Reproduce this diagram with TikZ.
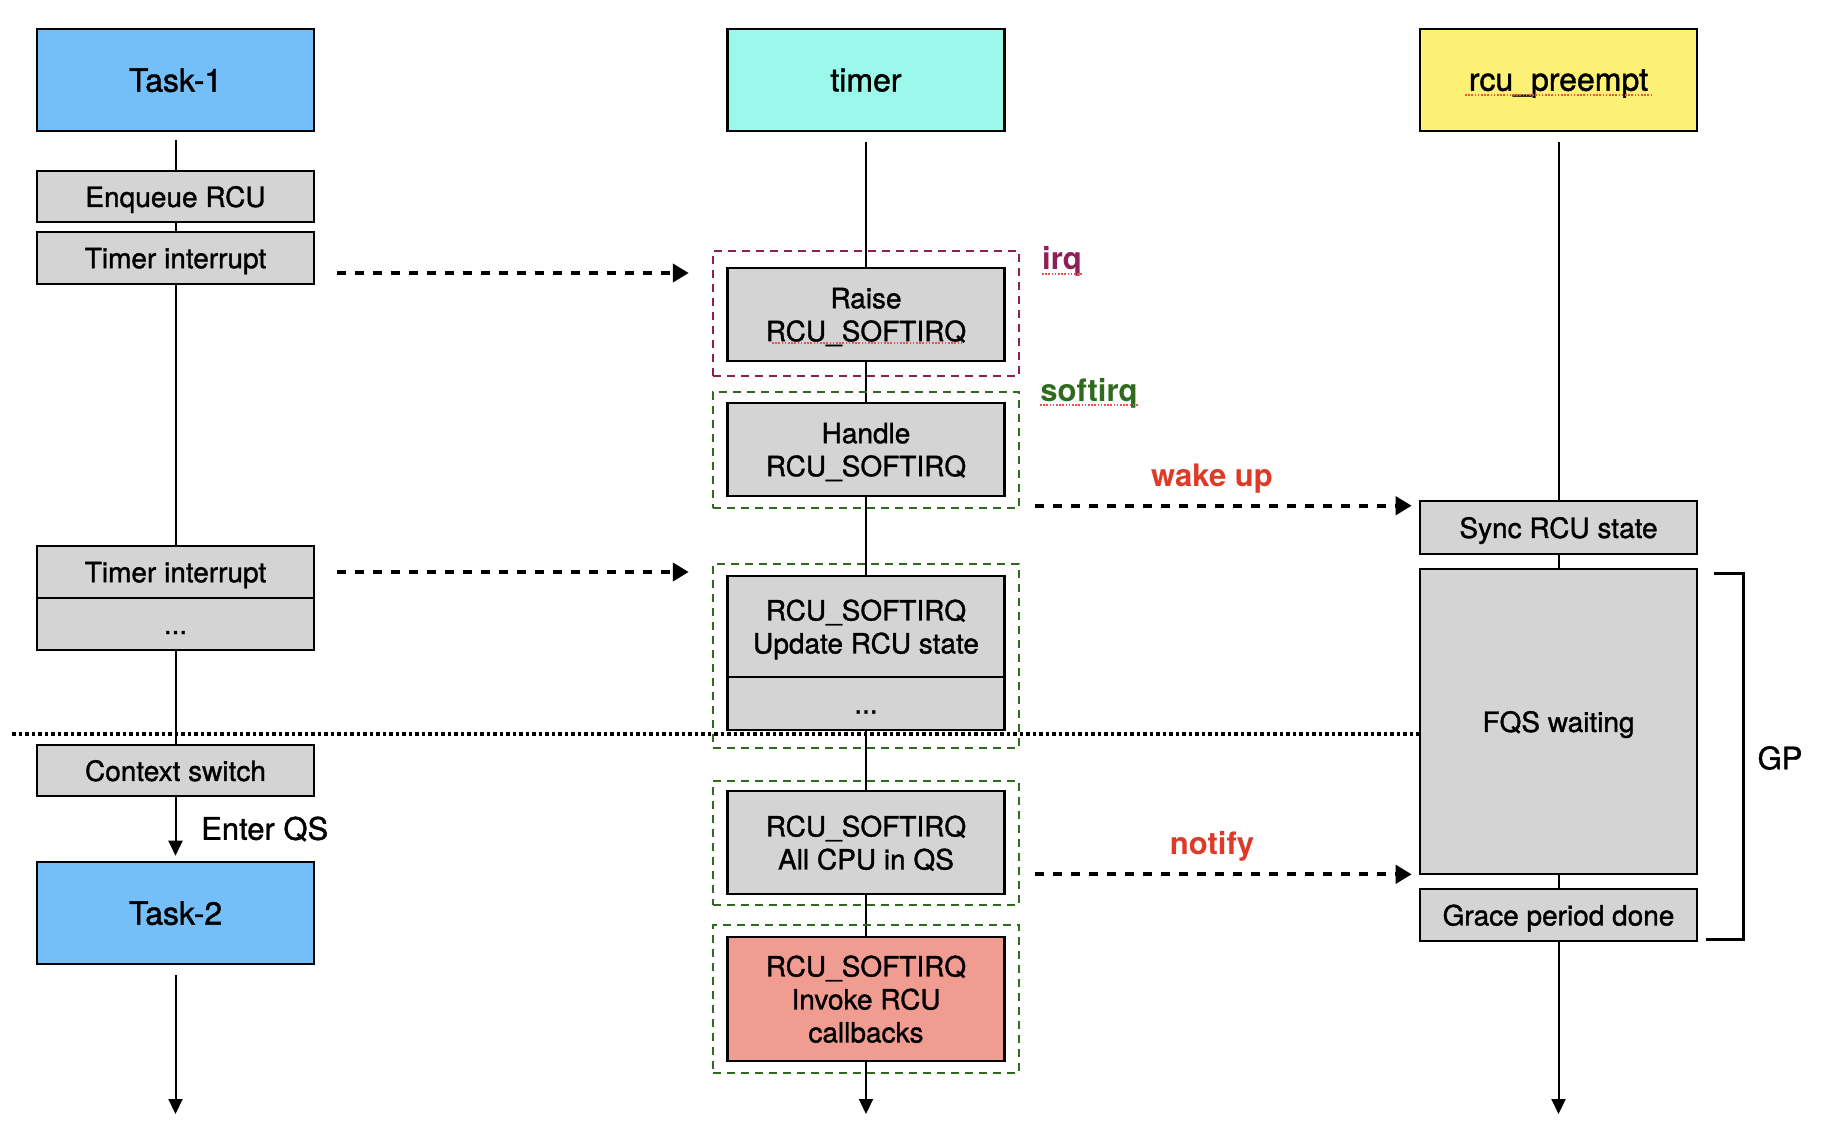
\documentclass[tikz,border=0pt]{standalone}
\usepackage{fontspec}
\setmainfont{TeX Gyre Heros}[UprightFeatures={FakeBold=1.2}]
\usetikzlibrary{arrows.meta,calc}
\definecolor{taskblue}{HTML}{74BFF8}
\definecolor{timercyan}{HTML}{9AF9EA}
\definecolor{rcuyellow}{HTML}{FCF075}
\definecolor{boxgray}{HTML}{D4D4D4}
\definecolor{boxpink}{HTML}{F19C90}
\definecolor{irqcol}{HTML}{8E1E56}
\definecolor{sirqcol}{HTML}{2F6B1E}
\definecolor{labred}{HTML}{DD3A28}
\definecolor{spellred}{HTML}{F0504A}
\pgfdeclarelayer{background}
\pgfsetlayers{background,main}
\begin{document}
\begin{tikzpicture}[x=1pt,y=-1pt,
  boxbase/.style={draw=black,line width=2.6pt,inner sep=0pt,align=center,text depth=0pt,font=\fontsize{28}{33}\selectfont},
  head/.style={boxbase,minimum width=277pt,minimum height=102pt,font=\fontsize{32}{38}\selectfont},
  stepbox/.style={boxbase,fill=boxgray,minimum width=277pt},
  dotsbox/.style={stepbox,text height=20pt},
  life/.style={line width=2pt},
  lifearrow/.style={life,-{Triangle[length=15pt,width=14pt]}},
  msg/.style={line width=4pt,dash pattern=on 9pt off 9pt,-{Triangle[length=16pt,width=18pt]}},
  grp/.style={line width=2.5pt,dash pattern=on 8pt off 6pt,minimum width=306pt,inner sep=0pt},
  tag/.style={font=\fontsize{31}{36}\selectfont\bfseries,inner sep=0pt},
  plain/.style={font=\fontsize{31}{36}\selectfont,inner sep=0pt},
  spell/.style={draw=spellred,line width=1.3pt,dash pattern=on 1.6pt off 1.6pt},
  gpbracket/.style={line width=2.5pt}
]
\useasboundingbox (0,0) rectangle (1822,1122);

% column heads
\node[head,fill=taskblue] (task1) at (175.5,80) {Task-1};
\node[head,fill=timercyan] (timer) at (866,80) {timer};
\node[head,fill=rcuyellow] (rcu) at (1558.5,80) {rcu\_preempt};

% Task column
\node[stepbox,minimum height=51pt] (enq) at (175.5,196.5) {Enqueue RCU};
\node[stepbox,minimum height=52pt] (ti1) at (175.5,258) {Timer interrupt};
\node[stepbox,minimum height=52pt] (ti2) at (175.5,572) {Timer interrupt};
\node[dotsbox,minimum height=52pt] (dots1) at (175.5,624) {...};
\node[stepbox,minimum height=51pt] (ctx) at (175.5,770.5) {Context switch};
\node[head,fill=taskblue] (task2) at (175.5,913) {Task-2};
\node[plain,anchor=west] (enterqs) at (201,829) {Enter QS};

% timer column
\node[stepbox,minimum height=93pt] (raise) at (866,314.5) {Raise\\RCU\_SOFTIRQ};
\node[stepbox,minimum height=93pt] (handle) at (866,449.5) {Handle\\RCU\_SOFTIRQ};
\node[stepbox,minimum height=101pt] (update) at (866,626.5) {RCU\_SOFTIRQ\\Update RCU state};
\node[dotsbox,minimum height=53pt] (dots2) at (866,703.5) {...};
\node[stepbox,minimum height=103pt] (allcpu) at (866,842.5) {RCU\_SOFTIRQ\\All CPU in QS};
\node[stepbox,fill=boxpink,minimum height=124pt] (invoke) at (866,999) {RCU\_SOFTIRQ\\Invoke RCU\\callbacks};

% groups
\node[grp,draw=irqcol,minimum height=125pt] (irqgrp) at (866,313.5) {};
\node[grp,draw=sirqcol,minimum height=116pt] (sgrp1) at (866,450) {};
\node[grp,draw=sirqcol,minimum height=184pt] (sgrp2) at (866,656) {};
\node[grp,draw=sirqcol,minimum height=124pt] (sgrp3) at (866,843) {};
\node[grp,draw=sirqcol,minimum height=148pt] (sgrp4) at (866,999) {};
\node[tag,text=irqcol] (irqlab) at (1062,261) {irq};
\node[tag,text=sirqcol] (sirqlab) at (1089,393) {softirq};

% rcu column
\node[stepbox,minimum height=53pt] (sync) at (1558.5,527.5) {Sync RCU state};
\node[stepbox,minimum height=305pt] (fqs) at (1558.5,721.5) {FQS waiting};
\node[stepbox,minimum height=52pt] (grace) at (1558.5,915) {Grace period done};
\node[plain] (gp) at (1780,758) {GP};

\node[tag,text=labred] (wake) at (1212,479) {wake up};
\node[tag,text=labred] (notify) at (1212,846) {notify};

% lifelines
\begin{pgfonlayer}{background}
\draw[life] ($(task1.south)+(0,8)$) -- (ctx.south);
\draw[lifearrow] (ctx.south) -- ($(task2.north)+(0,-5)$);
\draw[lifearrow] ($(task2.south)+(0,10)$) -- (175.5,1114);
\draw[lifearrow] ($(timer.south)+(0,10)$) -- (866,1114);
\draw[lifearrow] ($(rcu.south)+(0,10)$) -- (1558.5,1114);
\end{pgfonlayer}

% messages
\coordinate (m1s) at ($(ti1.east)+(22,15)$);
\coordinate (m1e) at ($(irqgrp.west |- m1s)+(-23,0)$);
\draw[msg] (m1s) -- (m1e);
\coordinate (m2s) at ($(ti2.east)+(22,0)$);
\coordinate (m2e) at ($(sgrp2.west |- m2s)+(-23,0)$);
\draw[msg] (m2s) -- (m2e);
\coordinate (m3s) at ($(sgrp1.east |- sync.north)+(15,6)$);
\coordinate (m3e) at ($(sync.west |- m3s)+(-7,0)$);
\draw[msg] (m3s) -- (m3e);
\coordinate (m4s) at ($(sgrp3.east |- fqs.south)+(15,-1)$);
\coordinate (m4e) at ($(fqs.west |- m4s)+(-7,0)$);
\draw[msg] (m4s) -- (m4e);

% separator
\coordinate (sepstart) at (12,734);
\draw[line width=4.5pt,dash pattern=on 3.5pt off 3pt] (sepstart) -- (fqs.west |- sepstart);

% GP bracket
\draw[gpbracket] ($(fqs.north east)+(16,6)$) -- ++(29,0) |- ($(grace.south east)+(8,-3)$);

% spell-check underlines
\draw[spell] (1042,274) -- (1082,274);
\draw[spell] (1040,405) -- (1139,405);
\draw[spell] (1465,95) -- (1652,95);
\draw[spell] (772,343) -- (962,343);
\end{tikzpicture}
\end{document}
